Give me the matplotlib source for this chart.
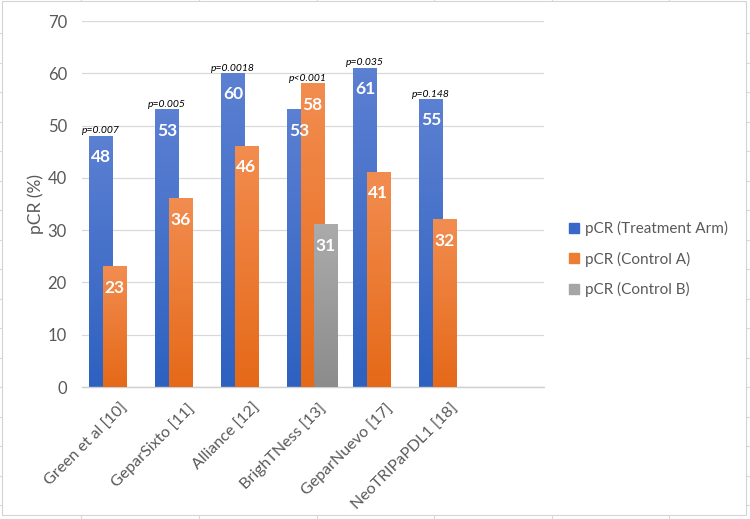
import numpy as np
import matplotlib
matplotlib.use("Agg")
import matplotlib.pyplot as plt
from matplotlib.lines import Line2D
from matplotlib.patches import Rectangle
from matplotlib.colors import LinearSegmentedColormap
from matplotlib.transforms import ScaledTranslation

plt.rcParams["font.family"] = ["Lato", "DejaVu Sans"]

# data
studies = ["Green et al [10]", "GeparSixto [11]", "Alliance [12]", "BrighTNess [13]",
           "GeparNuevo [17]", "NeoTRIPaPDL1 [18]"]
treatment = [48, 53, 60, 53, 61, 55]
control_a = [23, 36, 46, 58, 41, 32]
control_b = [None, None, None, 31, None, None]
p_values = ["p=0.007", "p=0.005", "p=0.0018", "p<0.001", "p=0.035", "p=0.148"]
series_names = ["pCR (Treatment Arm)", "pCR (Control A)", "pCR (Control B)"]

# gradient colours (top, bottom) and legend colour
styles = [
    ("#5C80D2", "#2D61C0", "#3A68C8"),
    ("#F28D50", "#E56918", "#ED7D31"),
    ("#ABABAB", "#8C8C8C", "#A5A5A5"),
]

fig = plt.figure(figsize=(7.5, 5.19), dpi=100)
W, H = 750, 519

# spreadsheet grid behind the chart
for x in [81, 199, 317, 434, 552, 669]:
    fig.add_artist(Line2D([x / W, x / W], [0, 1], color="#DADADA", lw=0.8, zorder=-3))
for y in np.arange(33, 519, 29.5):
    fig.add_artist(Line2D([0, 1], [1 - y / H, 1 - y / H], color="#DADADA", lw=0.8, zorder=-3))
fig.add_artist(Rectangle((2 / W, 1 - 515 / H), 744 / W, 514 / H, transform=fig.transFigure,
                         facecolor="white", edgecolor="#D4D4D4", lw=0.8, zorder=-2))

ax = fig.add_axes([81.5 / W, 1 - 387 / H, 462 / W, 366 / H])
ax.set_facecolor("none")

x = np.arange(len(studies))
width = 0.35
offsets = [-0.205, 0.0, 0.205]
all_series = [treatment, control_a, control_b]

for k, (vals, (ctop, cbot, cleg)) in enumerate(zip(all_series, styles)):
    cmap = LinearSegmentedColormap.from_list("g%d" % k, [cbot, ctop])
    grad = np.linspace(0, 1, 256).reshape(-1, 1)
    xs = [xi + offsets[k] for xi, v in zip(x, vals) if v is not None]
    hs = [v for v in vals if v is not None]
    bars = ax.bar(xs, hs, width, color="none", edgecolor="none", zorder=2 + k)
    for b, v in zip(bars, hs):
        x0 = b.get_x()
        ax.imshow(grad, cmap=cmap, origin="lower", aspect="auto",
                  extent=[x0, x0 + b.get_width(), 0, v], zorder=2 + k)
        ax.annotate(str(v), (x0 + b.get_width() / 2, v), xytext=(0, -15),
                    textcoords="offset points", ha="center", va="center",
                    color="white", fontsize=12.5, fontweight="bold", zorder=10)

# p-values above the tallest bar of each study
for i, p in enumerate(p_values):
    if control_a[i] > treatment[i]:
        px, py = x[i] + offsets[1] - 0.07, control_a[i]
    else:
        px, py = x[i] + offsets[0], treatment[i]
    ax.annotate(p, (px, py), xytext=(0, 0.5), textcoords="offset points", ha="center",
                va="bottom", fontsize=7.5, style="italic", color="black", zorder=10)

ax.set_xlim(-0.5, len(studies) + 0.5)
ax.set_ylim(0, 70)
ax.set_yticks(range(0, 71, 10))
ax.set_xticks(x)
ax.set_xticklabels(studies, rotation=45, ha="right", rotation_mode="anchor")
ax.tick_params(axis="both", length=0, colors="#595959")
ax.tick_params(axis="y", pad=10.5, labelsize=12)
ax.tick_params(axis="x", pad=10, labelsize=11.5)
shift = ScaledTranslation(6 / 100, 0, fig.dpi_scale_trans)
for lab in ax.get_xticklabels():
    lab.set_transform(lab.get_transform() + shift)
ax.grid(axis="y", color="#D9D9D9", lw=0.9, zorder=0)
ax.set_axisbelow(True)
for s in ["top", "right", "left"]:
    ax.spines[s].set_visible(False)
ax.spines["bottom"].set_color("#CFCFCF")
ax.spines["bottom"].set_linewidth(1.0)
ax.set_ylabel("pCR (%)", color="#595959", fontsize=12.5, labelpad=3)

handles = [Line2D([], [], marker="s", ls="none", color=c[2], markersize=7) for c in styles]
fig.legend(handles, series_names, loc="center left", bbox_to_anchor=(554 / W, 1 - 259 / H),
           frameon=False, fontsize=11, labelcolor="#595959", handlelength=0.8,
           handletextpad=0.35, labelspacing=1.0)

fig.savefig("out.png", dpi=100)
